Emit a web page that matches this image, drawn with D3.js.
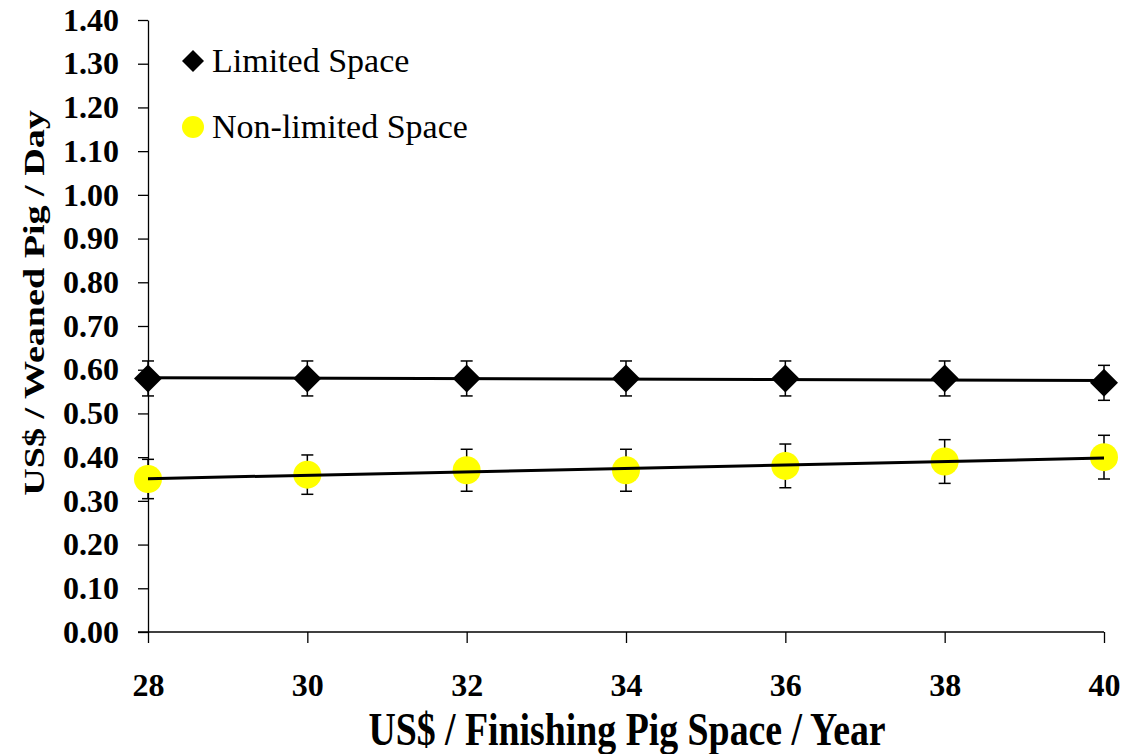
<!DOCTYPE html>
<html>
<head>
<meta charset="utf-8">
<script src="https://cdn.jsdelivr.net/npm/d3@7"></script>
<style>
  body { margin: 0; background: #fff; }
  text { font-family: "Liberation Serif", "Times New Roman", serif; }
</style>
</head>
<body>
<div id="chart-area"></div>
<script>
// Datos
const xValues = [28, 30, 32, 34, 36, 38, 40];
const limited = [0.58, 0.58, 0.58, 0.58, 0.58, 0.58, 0.57];
const limitedErr = [0.04, 0.04, 0.04, 0.04, 0.04, 0.04, 0.04];
const nonLimited = [0.35, 0.36, 0.37, 0.37, 0.38, 0.39, 0.40];
const nonLimitedErr = [0.045, 0.045, 0.048, 0.048, 0.05, 0.05, 0.05];
const yTicks = [0, 0.1, 0.2, 0.3, 0.4, 0.5, 0.6, 0.7, 0.8, 0.9, 1.0, 1.1, 1.2, 1.3, 1.4];
const xTicks = [28, 30, 32, 34, 36, 38, 40];

// Márgenes y dimensiones
const W = 1124, H = 754;
const margin = { top: 20, right: 20, bottom: 122, left: 148 };
const width = W - margin.left - margin.right;
const height = H - margin.top - margin.bottom;

const svg = d3.select("#chart-area").append("svg")
    .attr("width", W)
    .attr("height", H);

const g = svg.append("g")
    .attr("transform", `translate(${margin.left}, ${margin.top})`);

// Escalas
const x = d3.scaleLinear().domain([28, 40]).range([0, width]);
const y = d3.scaleLinear().domain([0, 1.4]).range([height, 0]);

// Ejes
const yAxis = g.append("g")
    .call(d3.axisLeft(y).tickValues(yTicks).tickFormat(d3.format(".2f"))
        .tickSize(10).tickSizeOuter(0).tickPadding(19));
yAxis.selectAll("text")
    .attr("font-size", 32).attr("font-weight", "bold").attr("fill", "#000")
    .style("font-family", "'Liberation Serif', serif");

const xAxis = g.append("g")
    .attr("transform", `translate(0, ${height})`)
    .call(d3.axisBottom(x).tickValues(xTicks).tickFormat(d3.format("d"))
        .tickSize(11).tickSizeOuter(0).tickPadding(30));
xAxis.selectAll("text")
    .attr("font-size", 32).attr("font-weight", "bold").attr("fill", "#000")
    .style("font-family", "'Liberation Serif', serif");

g.selectAll(".domain, .tick line").attr("stroke", "#000").attr("stroke-width", 1.3);
// extender eje x hasta el tick 0.00
xAxis.select(".domain").attr("d", `M-10,0H${width}`);

// Títulos de ejes
svg.append("text")
    .attr("transform", `translate(627, 745) scale(1, 1.23)`)
    .attr("text-anchor", "middle")
    .attr("font-size", 37.8).attr("font-weight", "bold")
    .text("US$ / Finishing Pig Space / Year");

svg.append("text")
    .attr("transform", `translate(44, 303) rotate(-90) scale(1.27, 1)`)
    .attr("text-anchor", "middle")
    .attr("font-size", 30).attr("font-weight", "bold")
    .text("US$ / Weaned Pig / Day");

// Tendencia lineal (mínimos cuadrados)
function trend(xs, ys) {
    const mx = d3.mean(xs), my = d3.mean(ys);
    const b = d3.sum(xs, (v, i) => (v - mx) * (ys[i] - my)) / d3.sum(xs, v => (v - mx) ** 2);
    const a = my - b * mx;
    const ext = d3.extent(xs);
    return ext.map(v => ({ x: v, y: a + b * v }));
}

const series = [
    { name: "Limited Space", vals: limited, err: limitedErr, shape: "diamond", color: "#000" },
    { name: "Non-limited Space", vals: nonLimited, err: nonLimitedErr, shape: "circle", color: "#ffff00" }
];

const diamond = r => `M0,${-r}L${r},0L0,${r}L${-r},0Z`;

series.forEach(s => {
    const pts = xValues.map((v, i) => ({ x: v, y: s.vals[i], e: s.err[i] }));

    // Barras de error
    const eb = g.append("g").selectAll("g").data(pts).join("g")
        .attr("stroke", "#000").attr("stroke-width", 1.5);
    eb.append("line")
        .attr("x1", d => x(d.x)).attr("x2", d => x(d.x))
        .attr("y1", d => y(d.y + d.e)).attr("y2", d => y(d.y - d.e));
    eb.append("line")
        .attr("x1", d => x(d.x) - 6).attr("x2", d => x(d.x) + 6)
        .attr("y1", d => y(d.y + d.e)).attr("y2", d => y(d.y + d.e));
    eb.append("line")
        .attr("x1", d => x(d.x) - 6).attr("x2", d => x(d.x) + 6)
        .attr("y1", d => y(d.y - d.e)).attr("y2", d => y(d.y - d.e));

    // Marcadores
    if (s.shape === "diamond") {
        g.append("g").selectAll("path").data(pts).join("path")
            .attr("transform", d => `translate(${x(d.x)}, ${y(d.y)})`)
            .attr("d", diamond(14))
            .attr("fill", s.color);
    } else {
        g.append("g").selectAll("circle").data(pts).join("circle")
            .attr("cx", d => x(d.x)).attr("cy", d => y(d.y))
            .attr("r", 14)
            .attr("fill", s.color);
    }
});

// Líneas de tendencia encima de los marcadores
const line = d3.line().x(d => x(d.x)).y(d => y(d.y));
series.forEach(s => {
    g.append("path")
        .datum(trend(xValues, s.vals))
        .attr("fill", "none")
        .attr("stroke", "#000")
        .attr("stroke-width", 3)
        .attr("d", line);
});

// Leyenda
const legend = svg.append("g");
const legendRows = [
    { label: "Limited Space", shape: "diamond", color: "#000", y: 61 },
    { label: "Non-limited Space", shape: "circle", color: "#ffff00", y: 127 }
];
legendRows.forEach(r => {
    if (r.shape === "diamond") {
        legend.append("path")
            .attr("transform", `translate(193, ${r.y})`)
            .attr("d", diamond(11)).attr("fill", r.color);
    } else {
        legend.append("circle")
            .attr("cx", 193).attr("cy", r.y).attr("r", 11).attr("fill", r.color);
    }
    legend.append("text")
        .attr("x", 212).attr("y", r.y + 11)
        .attr("font-size", 34)
        .text(r.label);
});
</script>
</body>
</html>
